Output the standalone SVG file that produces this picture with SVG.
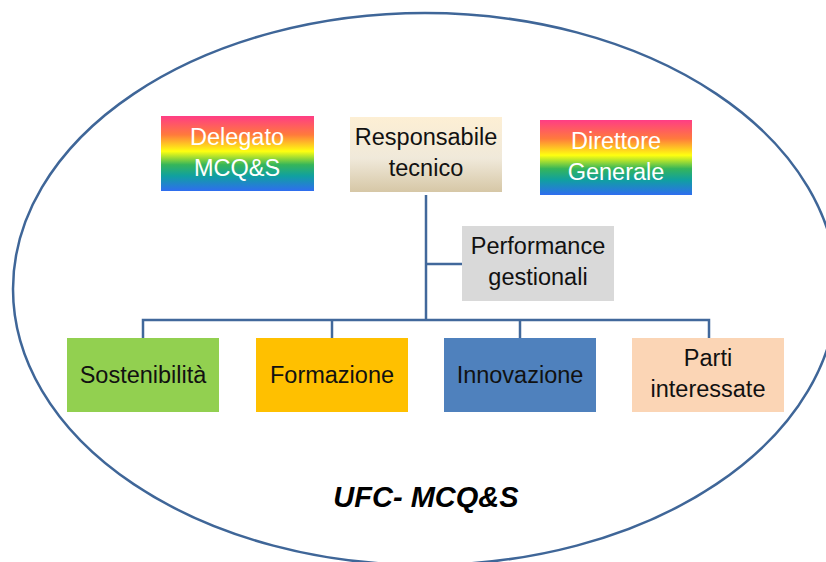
<svg xmlns="http://www.w3.org/2000/svg" width="826" height="562" viewBox="0 0 826 562">
<style>
  .lbl{font-family:"Liberation Sans","Open Sans",Arial,sans-serif;font-size:23.5px;text-anchor:middle;fill:#111;}
  .wh{fill:#ffffff;}
  .conn{fill:none;stroke:#41689b;stroke-width:2.5;}
  .title{font-family:"Liberation Sans",Arial,sans-serif;font-size:29px;font-weight:bold;font-style:italic;text-anchor:middle;fill:#000;}
</style>
<defs>
  <linearGradient id="rainbow" x1="0" y1="0" x2="0" y2="1">
    <stop offset="0" stop-color="#ff3d85"/>
    <stop offset="0.25" stop-color="#ff7a3c"/>
    <stop offset="0.47" stop-color="#ffff10"/>
    <stop offset="0.65" stop-color="#35b55a"/>
    <stop offset="0.8" stop-color="#10a0a0"/>
    <stop offset="1" stop-color="#2f6df0"/>
  </linearGradient>
  <linearGradient id="tan" x1="0" y1="0" x2="0" y2="1">
    <stop offset="0" stop-color="#fdefd4"/>
    <stop offset="0.55" stop-color="#f0e9da"/>
    <stop offset="1" stop-color="#d6c7a6"/>
  </linearGradient>
</defs>
<rect width="826" height="562" fill="#ffffff"/>
<ellipse id="boundary" cx="425" cy="289" rx="412" ry="276" fill="none" stroke="#3f6698" stroke-width="2.5"/>
<g id="connectors">
  <path class="conn" d="M426 195 V320"/>
  <path class="conn" d="M426 264 H462"/>
  <path class="conn" d="M143 338 V320 H709 V338"/>
  <path class="conn" d="M332 320 V338"/>
  <path class="conn" d="M520 320 V338"/>
</g>
<g id="delegato">
  <rect x="161" y="116" width="153" height="75" fill="url(#rainbow)"/>
  <text class="lbl wh" x="237" y="145">Delegato</text>
  <text class="lbl wh" x="237" y="176">MCQ&amp;S</text>
</g>
<g id="responsabile">
  <rect x="350" y="117" width="152" height="75" fill="url(#tan)"/>
  <text class="lbl" x="426" y="145">Responsabile</text>
  <text class="lbl" x="426" y="176">tecnico</text>
</g>
<g id="direttore">
  <rect x="540" y="120" width="152" height="75" fill="url(#rainbow)"/>
  <text class="lbl wh" x="616" y="149">Direttore</text>
  <text class="lbl wh" x="616" y="180">Generale</text>
</g>
<g id="performance">
  <rect x="462" y="226" width="152" height="75" fill="#d9d9d9"/>
  <text class="lbl" x="538" y="254">Performance</text>
  <text class="lbl" x="538" y="285">gestionali</text>
</g>
<g id="sostenibilita">
  <rect x="67" y="338" width="152" height="74" fill="#92d050"/>
  <text class="lbl" x="143" y="383">Sostenibilità</text>
</g>
<g id="formazione">
  <rect x="256" y="338" width="152" height="74" fill="#ffc000"/>
  <text class="lbl" x="332" y="383">Formazione</text>
</g>
<g id="innovazione">
  <rect x="444" y="338" width="152" height="74" fill="#4f81bd"/>
  <text class="lbl" x="520" y="383">Innovazione</text>
</g>
<g id="parti">
  <rect x="632" y="338" width="152" height="74" fill="#fbd5b5"/>
  <text class="lbl" x="708" y="366">Parti</text>
  <text class="lbl" x="708" y="397">interessate</text>
</g>
<text class="title" x="426" y="507">UFC- MCQ&amp;S</text>
</svg>
